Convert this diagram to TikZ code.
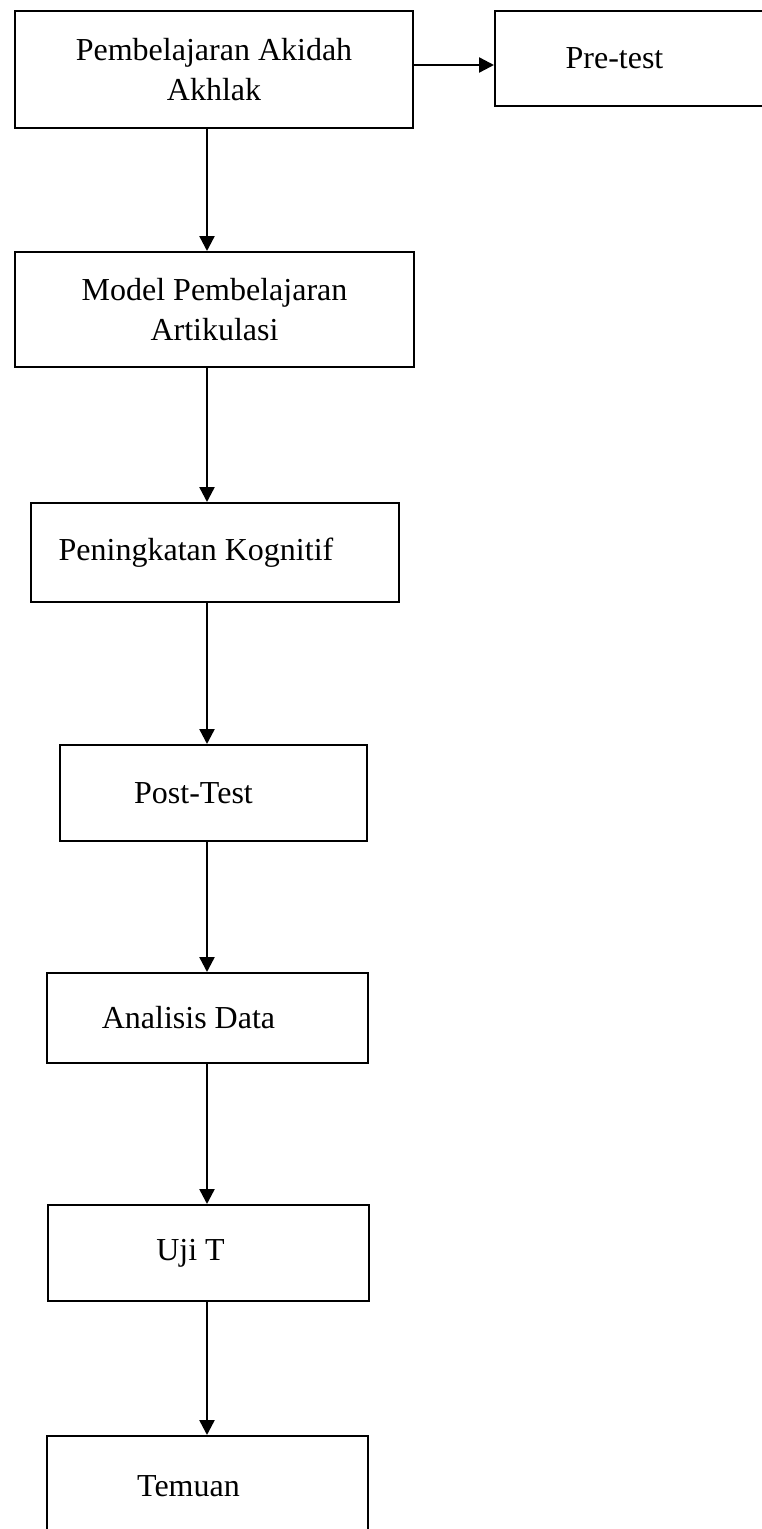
\documentclass[tikz,border=0pt]{standalone}
\usepackage{fontspec}
\setmainfont{Liberation Serif}
\usetikzlibrary{arrows.meta}

\begin{document}
\begin{tikzpicture}[x=1pt, y=-1pt, line width=2pt,
	box/.style={draw, rectangle, inner sep=0pt, font=\fontsize{32}{40}\selectfont},
	offtext/.style={execute at begin node={\kern-#1}},
	arr/.style={line width=2.4pt, -{Triangle[width=15pt,length=15pt]}}]
	\useasboundingbox (0,0) rectangle (762,1529);

	%boxes
	\node (akidah) at (214, 69.5) [box, minimum width=398, minimum height=117, align=center]{Pembelajaran Akidah\\Akhlak};
	\node (pretest) at (629.5, 58.5) [box, minimum width=269, minimum height=95, offtext=30pt]{Pre-test};
	\node (model) at (214.5, 309.5) [box, minimum width=399, minimum height=115, align=center]{Model Pembelajaran\\Artikulasi};
	\node (kognitif) at (215, 552.5) [box, minimum width=368, minimum height=99, offtext=38pt]{Peningkatan Kognitif};
	\node (posttest) at (213.5, 793) [box, minimum width=307, minimum height=96, offtext=40pt]{Post-Test};
	\node (analisis) at (207.5, 1018) [box, minimum width=321, minimum height=90, offtext=38pt]{Analisis Data};
	\node (ujit) at (208.5, 1253) [box, minimum width=321, minimum height=96, offtext=36pt]{Uji T};
	\node (temuan) at (207.5, 1486) [box, minimum width=321, minimum height=100, offtext=38pt]{Temuan};

	%arrows
	\coordinate (axis) at (207, 0);
	\draw[arr] (akidah.east |- 0,65) -- (pretest.west |- 0,65);
	\foreach \a/\b in {akidah/model, model/kognitif, kognitif/posttest, posttest/analisis, analisis/ujit, ujit/temuan}{
		\draw[arr] (\a.south -| axis) -- (\b.north -| axis);
	}
\end{tikzpicture}
\end{document}
